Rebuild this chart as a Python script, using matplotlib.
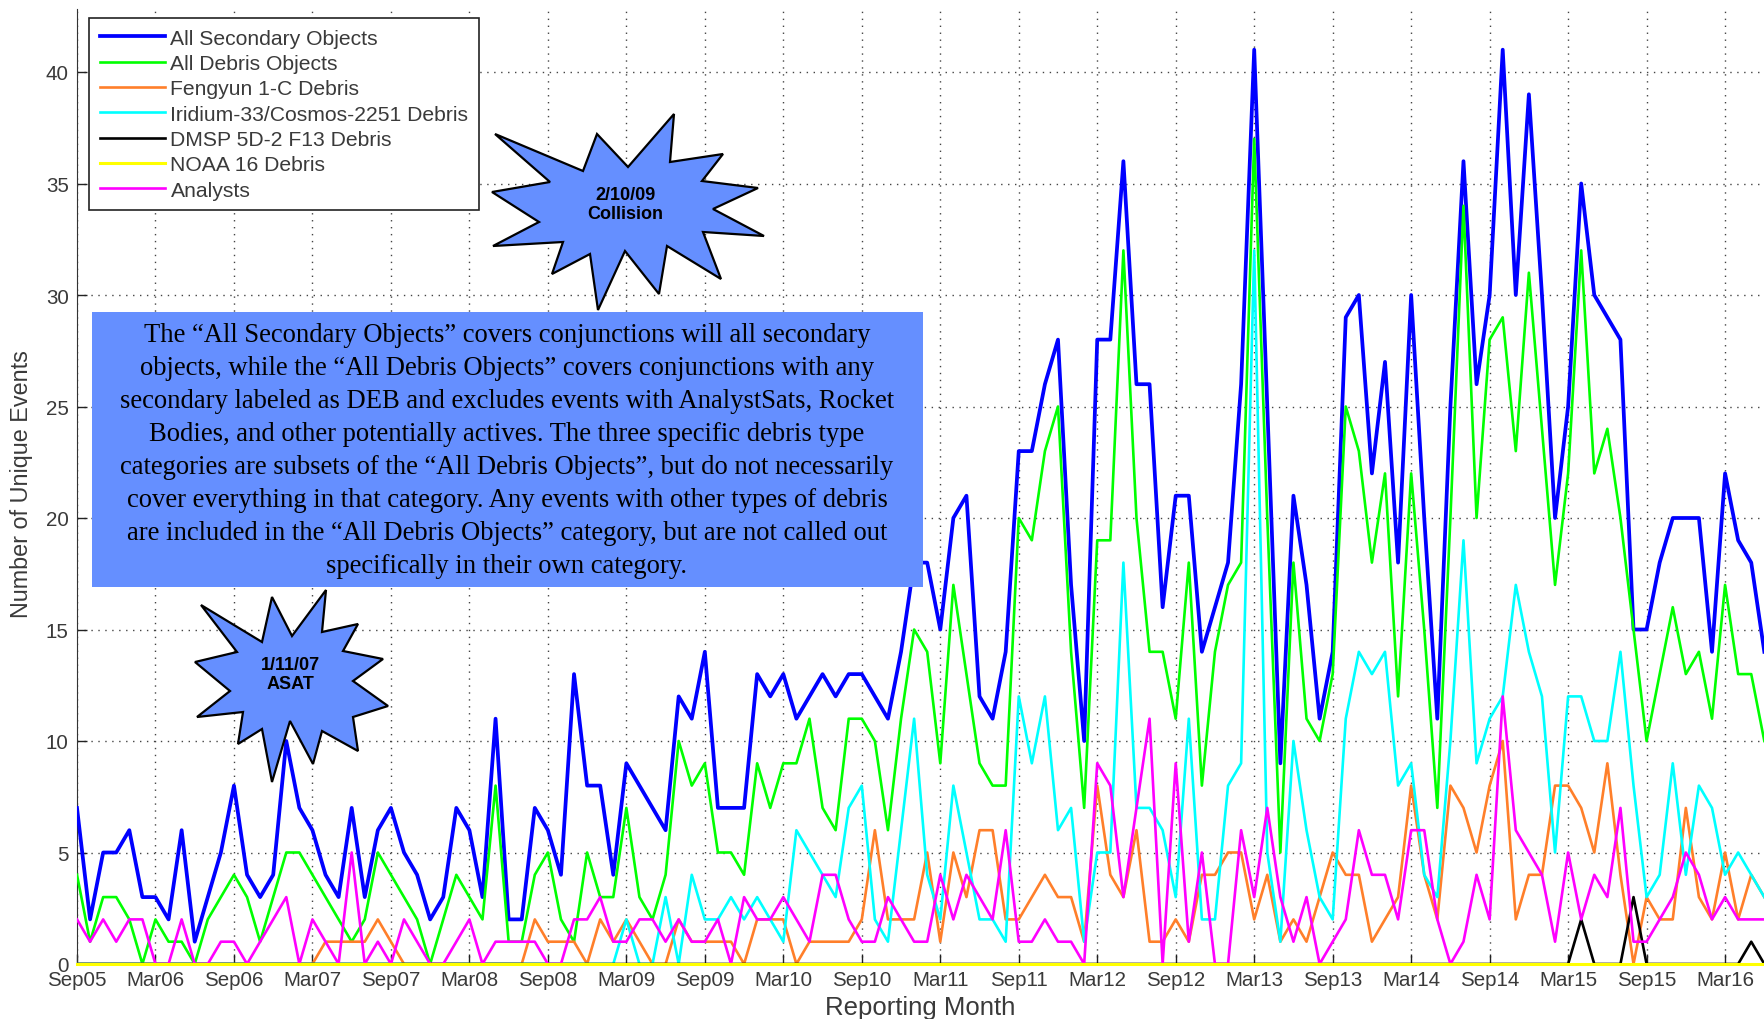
import numpy as np
import matplotlib.pyplot as plt
from matplotlib.patches import Polygon, Rectangle

# ---------------------------------------------------------------
# monthly counts, Sep05 (index 0) .. Jun16 (index 129)
# ---------------------------------------------------------------
all_secondary = [7, 2, 5, 5, 6, 3, 3, 2, 6, 1,
                 3, 5, 8, 4, 3, 4, 10, 7, 6, 4,
                 3, 7, 3, 6, 7, 5, 4, 2, 3, 7,
                 6, 3, 11, 2, 2, 7, 6, 4, 13, 8,
                 8, 4, 9, 8, 7, 6, 12, 11, 14, 7,
                 7, 7, 13, 12, 13, 11, 12, 13, 12, 13,
                 13, 12, 11, 14, 18, 18, 15, 20, 21, 12,
                 11, 14, 23, 23, 26, 28, 17, 10, 28, 28,
                 36, 26, 26, 16, 21, 21, 14, 16, 18, 26,
                 41, 25, 9, 21, 17, 11, 14, 29, 30, 22,
                 27, 18, 30, 20, 11, 25, 36, 26, 30, 41,
                 30, 39, 30, 20, 25, 35, 30, 29, 28, 15,
                 15, 18, 20, 20, 20, 14, 22, 19, 18, 14]

all_debris = [4, 1, 3, 3, 2, 0, 2, 1, 1, 0,
              2, 3, 4, 3, 1, 3, 5, 5, 4, 3,
              2, 1, 2, 5, 4, 3, 2, 0, 2, 4,
              3, 2, 8, 1, 1, 4, 5, 2, 1, 5,
              3, 3, 7, 3, 2, 4, 10, 8, 9, 5,
              5, 4, 9, 7, 9, 9, 11, 7, 6, 11,
              11, 10, 6, 11, 15, 14, 9, 17, 13, 9,
              8, 8, 20, 19, 23, 25, 14, 7, 19, 19,
              32, 20, 14, 14, 11, 18, 8, 14, 17, 18,
              37, 20, 5, 18, 11, 10, 13, 25, 23, 18,
              22, 12, 22, 15, 7, 20, 34, 20, 28, 29,
              23, 31, 24, 17, 22, 32, 22, 24, 20, 15,
              10, 13, 16, 13, 14, 11, 17, 13, 13, 10]

fengyun = [0, 0, 0, 0, 0, 0, 0, 0, 0, 0,
           0, 0, 0, 0, 0, 0, 0, 0, 0, 1,
           1, 1, 1, 2, 1, 0, 0, 0, 0, 0,
           0, 0, 0, 0, 0, 2, 1, 1, 1, 0,
           2, 1, 2, 1, 0, 0, 2, 1, 1, 1,
           1, 0, 2, 2, 2, 0, 1, 1, 1, 1,
           2, 6, 2, 2, 2, 5, 1, 5, 3, 6,
           6, 2, 2, 3, 4, 3, 3, 1, 8, 4,
           3, 6, 1, 1, 2, 1, 4, 4, 5, 5,
           2, 4, 1, 2, 1, 3, 5, 4, 4, 1,
           2, 3, 8, 4, 2, 8, 7, 5, 8, 10,
           2, 4, 4, 8, 8, 7, 5, 9, 4, 0,
           3, 2, 2, 7, 3, 2, 5, 2, 4, 3]

iridium_cosmos = [0] * 41 + [
                  0, 2, 0, 0, 3, 0, 4, 2, 2,
                  3, 2, 3, 2, 1, 6, 5, 4, 3, 7,
                  8, 2, 1, 6, 11, 4, 2, 8, 5, 2,
                  2, 1, 12, 9, 12, 6, 7, 1, 5, 5,
                  18, 7, 7, 6, 3, 11, 2, 2, 8, 9,
                  32, 5, 1, 10, 6, 3, 2, 11, 14, 13,
                  14, 8, 9, 4, 3, 10, 19, 9, 11, 12,
                  17, 14, 12, 5, 12, 12, 10, 10, 14, 8,
                  3, 4, 9, 4, 8, 7, 4, 5, 4, 3]

dmsp = [0] * 115 + [2, 0, 0, 0, 3, 0, 0, 0, 0, 0, 0, 0, 0, 1, 0]

noaa16 = [0] * 130

analysts = [2, 1, 2, 1, 2, 2, 0, 0, 2, 0,
            0, 1, 1, 0, 1, 2, 3, 0, 2, 1,
            0, 5, 0, 1, 0, 2, 1, 0, 0, 1,
            2, 0, 1, 1, 1, 1, 0, 0, 2, 2,
            3, 1, 1, 2, 2, 1, 2, 1, 1, 2,
            0, 3, 2, 2, 3, 2, 1, 4, 4, 2,
            1, 1, 3, 2, 1, 1, 4, 2, 4, 3,
            2, 6, 1, 1, 2, 1, 1, 0, 9, 8,
            3, 7, 11, 0, 9, 1, 5, 0, 0, 6,
            3, 7, 3, 1, 3, 0, 1, 2, 6, 4,
            4, 2, 6, 6, 2, 0, 1, 4, 2, 12,
            6, 5, 4, 1, 5, 2, 4, 3, 7, 1,
            1, 2, 3, 5, 4, 2, 3, 2, 2, 2]

tick_labels = ['Sep05', 'Mar06', 'Sep06', 'Mar07', 'Sep07', 'Mar08', 'Sep08',
               'Mar09', 'Sep09', 'Mar10', 'Sep10', 'Mar11', 'Sep11', 'Mar12',
               'Sep12', 'Mar13', 'Sep13', 'Mar14', 'Sep14', 'Mar15', 'Sep15',
               'Mar16']

note = ("The \u201cAll Secondary Objects\u201d covers conjunctions will all secondary\n"
        "objects, while the \u201cAll Debris Objects\u201d covers conjunctions with any\n"
        "secondary labeled as DEB and excludes events with AnalystSats, Rocket\n"
        "Bodies, and other potentially actives. The three specific debris type\n"
        "categories are subsets of the \u201cAll Debris Objects\u201d, but do not necessarily\n"
        "cover everything in that category. Any events with other types of debris\n"
        "are included in the \u201cAll Debris Objects\u201d category, but are not called out\n"
        "specifically in their own category.")

months = np.arange(len(all_secondary))

W, H = 1764, 1020
fig = plt.figure(figsize=(W / 100, H / 100), dpi=100)
ax = fig.add_axes([77 / W, 55 / H, (W - 77) / W, 955 / H])

#----------------------------------
# lines
series = [
    (all_secondary, '#0000FF', 2.7, 'All Secondary Objects'),
    (all_debris, '#00FF00', 1.9, 'All Debris Objects'),
    (fengyun, '#FF7F2A', 1.9, 'Fengyun 1-C Debris'),
    (iridium_cosmos, '#00FFFF', 1.9, 'Iridium-33/Cosmos-2251 Debris'),
    (dmsp, '#000000', 1.9, 'DMSP 5D-2 F13 Debris'),
    (noaa16, '#FFFF00', 2.2, 'NOAA 16 Debris'),
    (analysts, '#FF00FF', 1.9, 'Analysts'),
]
handles = []
for vals, col, lw, name in series:
    z = 3 if name != 'NOAA 16 Debris' else 4
    h, = ax.plot(months, vals, color=col, lw=lw, label=name, zorder=z,
                 clip_on=(name != 'NOAA 16 Debris'))
    handles.append(h)

ax.set_xlim(0, (W - 77) / 13.08)
ax.set_ylim(0, 955 / 22.3)
ax.set_xticks(np.arange(0, 127, 6))
ax.set_xticklabels(tick_labels)
ax.set_yticks(np.arange(0, 41, 5))

ax.grid(True, color='#444444', linestyle=(0, (1, 4)), lw=1.0)
ax.tick_params(direction='in', length=7, width=1, colors='#222222',
               labelcolor='#3a3a3a', labelsize=14.8, pad=6)
ax.tick_params(axis='x', pad=4)
for lab in ax.get_xticklabels() + ax.get_yticklabels():
    lab.set_family('Liberation Sans')
ax.spines['top'].set_visible(False)
ax.spines['right'].set_visible(False)
ax.spines['left'].set_color('#333333')
ax.spines['bottom'].set_color('#333333')

fig.text(22 / W, 1 - 484 / H, 'Number of Unique Events', rotation=90,
         ha='center', va='center', fontsize=16.8, color='#3a3a3a',
         family='Liberation Sans')
fig.text(920 / W, 1 - 1008 / H, 'Reporting Month', ha='center', va='center',
         fontsize=18.5, color='#3a3a3a', family='Liberation Sans')

leg = ax.legend(handles=handles, loc='upper left',
                bbox_to_anchor=(89 / W, 1 - 19 / H), bbox_transform=fig.transFigure,
                borderaxespad=0, fancybox=False, framealpha=1, edgecolor='#222222',
                prop={'family': 'Liberation Sans', 'size': 15.2},
                handlelength=3.1, handletextpad=0.26, labelspacing=0.3,
                borderpad=0.5)
leg.get_frame().set_linewidth(1.2)
for t in leg.get_texts():
    t.set_color('#3a3a3a')
leg.set_zorder(10)

#----------------------------------
# annotation box and starbursts (figure pixel coords, y down)
box_col = '#658FFF'

def px(pts):
    return [(x / W, 1 - y / H) for x, y in pts]

fig.patches.append(Rectangle((92 / W, 1 - 588 / H), 831 / W, 275 / H,
                             transform=fig.transFigure, facecolor=box_col,
                             edgecolor='none', zorder=5))
fig.text(507 / W, 1 - 451 / H, note, ha='center', va='center', fontsize=19.2,
         family='Liberation Serif', linespacing=1.42, zorder=6)

star_collision = [(495, 135), (583, 172), (597, 135), (628, 168), (674, 115),
                  (670, 163), (723, 155), (702, 182), (758, 189), (713, 210),
                  (764, 237), (703, 233), (721, 280), (667, 247), (659, 295),
                  (625, 252), (598, 311), (590, 255), (552, 275), (563, 243),
                  (493, 247), (539, 223), (492, 193), (550, 183)]
star_asat = [(201, 606), (237, 653), (195, 663), (230, 692), (197, 718),
             (243, 713), (238, 745), (262, 730), (272, 783), (290, 722),
             (313, 765), (322, 732), (358, 752), (353, 718), (388, 707),
             (353, 682), (383, 660), (343, 652), (358, 625), (322, 633),
             (326, 591), (292, 637), (272, 598), (262, 643)]

for pts in (star_collision, star_asat):
    fig.patches.append(Polygon(px(pts), closed=True, transform=fig.transFigure,
                               facecolor=box_col, edgecolor='black', lw=1.6,
                               joinstyle='miter', zorder=7))

fig.text(625 / W, 1 - 205 / H, '2/10/09\nCollision', ha='center', va='center',
         fontsize=13, fontweight='bold', family='Liberation Sans',
         linespacing=1.15, zorder=8)
fig.text(290 / W, 1 - 675 / H, '1/11/07\nASAT', ha='center', va='center',
         fontsize=13, fontweight='bold', family='Liberation Sans',
         linespacing=1.15, zorder=8)

fig.savefig('out.png', dpi=100)
